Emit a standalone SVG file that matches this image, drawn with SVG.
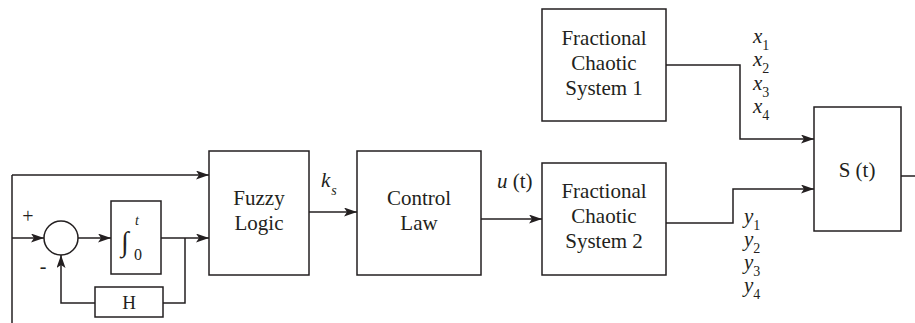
<svg xmlns="http://www.w3.org/2000/svg" width="915" height="323" viewBox="0 0 915 323">
<defs>
<marker id="arr" viewBox="0 0 13 9" refX="13" refY="4.5" markerWidth="13" markerHeight="9" markerUnits="userSpaceOnUse" orient="auto">
<path d="M0,0 L13,4.5 L0,9 L3,4.5 z" fill="#231f20"/>
</marker>
<style>
.b{fill:#fff;stroke:#231f20;stroke-width:1.5}
.l{fill:none;stroke:#231f20;stroke-width:1.5}
.a{fill:none;stroke:#231f20;stroke-width:1.5;marker-end:url(#arr)}
text{fill:#231f20}
.t{font-size:21px;text-anchor:middle}
.i{font-style:italic;font-size:21px}
.s{font-size:14px}
</style>
</defs>
<rect width="915" height="323" fill="#fff"/>
<g id="connectors">
<path class="l" d="M12,323 V175"/>
<path class="a" d="M12,175 H209"/>
<path class="a" d="M12,238 H44"/>
<path class="a" d="M78,238 H111"/>
<path class="a" d="M161,238 H209"/>
<path class="l" d="M185,238 V303 H163"/>
<path class="a" d="M95,303 H61 V255"/>
<path class="a" d="M309,212 H357"/>
<path class="a" d="M481,219 H542"/>
<path class="a" d="M666,65 H740 V139 H814"/>
<path class="a" d="M666,223 H733 V189 H814"/>
<path class="l" d="M901,176 H915"/>
</g>
<g font-family="'Liberation Serif', 'DejaVu Serif', serif">
<g id="sum">
<circle class="b" cx="61" cy="238" r="17"/>
<text x="28" y="223" font-size="20" text-anchor="middle">+</text>
<text x="43" y="273" font-size="20" text-anchor="middle">-</text>
</g>
<g id="integrator">
<rect class="b" x="111" y="201" width="50" height="73"/>
<text x="121" y="251" font-size="28">∫</text>
<text x="135" y="225" font-size="14" font-style="italic">t</text>
<text x="134" y="260" font-size="16">0</text>
</g>
<g id="h">
<rect class="b" x="95" y="287" width="68" height="30"/>
<text class="t" x="129" y="309" style="font-size:19px">H</text>
</g>
<g id="fuzzy">
<rect class="b" x="209" y="151" width="100" height="124"/>
<text class="t" x="259" y="205">Fuzzy</text>
<text class="t" x="259" y="230">Logic</text>
</g>
<g id="ks-label">
<text class="i" x="321" y="187">k<tspan class="s" dx="1" dy="8">s</tspan></text>
</g>
<g id="control">
<rect class="b" x="357" y="151" width="124" height="124"/>
<text class="t" x="419" y="205">Control</text>
<text class="t" x="419" y="230">Law</text>
</g>
<g id="ut-label">
<text x="497" y="188" font-size="21"><tspan font-style="italic">u</tspan> (t)</text>
</g>
<g id="fcs1">
<rect class="b" x="542" y="9" width="124" height="112"/>
<text class="t" x="604" y="45">Fractional</text>
<text class="t" x="604" y="70">Chaotic</text>
<text class="t" x="604" y="95">System 1</text>
</g>
<g id="fcs2">
<rect class="b" x="542" y="163" width="124" height="112"/>
<text class="t" x="604" y="198">Fractional</text>
<text class="t" x="604" y="223">Chaotic</text>
<text class="t" x="604" y="248">System 2</text>
</g>
<g id="x-labels">
<text class="i" x="753" y="43">x<tspan class="s" font-style="normal" dy="7">1</tspan></text>
<text class="i" x="753" y="66">x<tspan class="s" font-style="normal" dy="7">2</tspan></text>
<text class="i" x="753" y="90">x<tspan class="s" font-style="normal" dy="7">3</tspan></text>
<text class="i" x="753" y="113">x<tspan class="s" font-style="normal" dy="7">4</tspan></text>
</g>
<g id="y-labels">
<text class="i" x="744" y="223">y<tspan class="s" font-style="normal" dy="7">1</tspan></text>
<text class="i" x="744" y="246">y<tspan class="s" font-style="normal" dy="7">2</tspan></text>
<text class="i" x="744" y="269">y<tspan class="s" font-style="normal" dy="7">3</tspan></text>
<text class="i" x="744" y="292">y<tspan class="s" font-style="normal" dy="7">4</tspan></text>
</g>
<g id="s">
<rect class="b" x="814" y="107" width="87" height="124"/>
<text class="t" x="857" y="177">S (t)</text>
</g>
</g>
</svg>
